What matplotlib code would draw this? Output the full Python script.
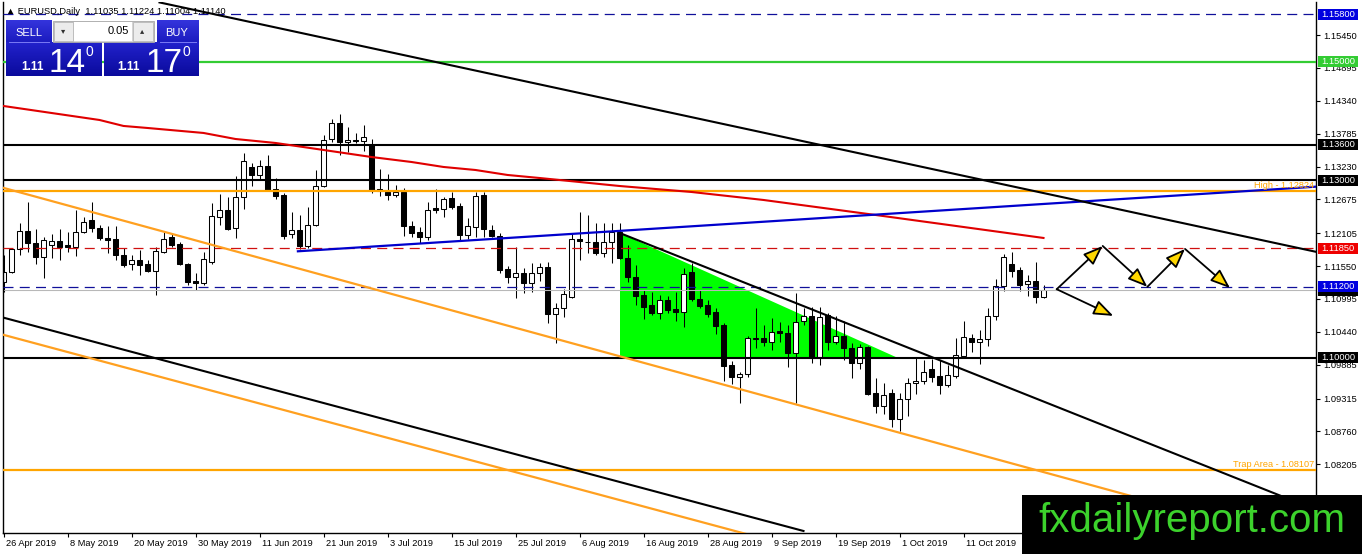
import numpy as np
import matplotlib
matplotlib.use('Agg')
import matplotlib.pyplot as plt
from matplotlib.patches import Rectangle, Polygon
from matplotlib.transforms import blended_transform_factory, ScaledTranslation
from matplotlib.colors import LinearSegmentedColormap

plt.rcParams['font.family'] = ['Liberation Sans', 'DejaVu Sans']

# ---------------- data ----------------
header_text = "\u25B2 EURUSD,Daily  1.11035 1.11224 1.11004 1.11140"

opens = [1.1128, 1.1145, 1.1184, 1.1214, 1.1194, 1.1170, 1.1191, 1.1197, 1.1191, 1.1187,
         1.1213, 1.1233, 1.1219, 1.1203, 1.1201, 1.1174, 1.1159, 1.1165, 1.1159, 1.1147,
         1.1179, 1.1204, 1.1192, 1.1159, 1.1130, 1.1127, 1.1162, 1.1238, 1.1250, 1.1219,
         1.1272, 1.1322, 1.1309, 1.1324, 1.1285, 1.1275, 1.1209, 1.1216, 1.1189, 1.1224,
         1.1290, 1.1370, 1.1397, 1.1364, 1.1368, 1.1366, 1.1359, 1.1285, 1.1280, 1.1275,
         1.1280, 1.1223, 1.1213, 1.1204, 1.1253, 1.1251, 1.1270, 1.1256, 1.1208, 1.1221,
         1.1275, 1.1216, 1.1206, 1.1150, 1.1137, 1.1143, 1.1127, 1.1143, 1.1154, 1.1074,
         1.1084, 1.1103, 1.1201, 1.1196, 1.1196, 1.1177, 1.1196, 1.1213, 1.1169, 1.1137,
         1.1106, 1.1089, 1.1076, 1.1098, 1.1083, 1.1078, 1.1145, 1.1100, 1.1089, 1.1078,
         1.1056, 1.0988, 1.0968, 1.0973, 1.1032, 1.1034, 1.1027, 1.1046, 1.1042, 1.1008,
         1.1062, 1.1071, 1.1002, 1.1072, 1.1027, 1.1037, 1.1017, 1.0991, 1.1019, 1.0941,
         1.0919, 1.0941, 1.0897, 1.0931, 1.0958, 1.0961, 1.0981, 1.0970, 1.0954, 1.0970,
         1.1003, 1.1034, 1.1027, 1.1032, 1.1071, 1.1122, 1.1159, 1.1149, 1.1125, 1.1130,
         1.11035]
highs = [1.1174, 1.1186, 1.1228, 1.1263, 1.1218, 1.1204, 1.1209, 1.1218, 1.1213, 1.1250,
         1.1238, 1.1263, 1.1224, 1.1223, 1.1223, 1.1186, 1.1174, 1.1182, 1.1165, 1.1187,
         1.1213, 1.1211, 1.1196, 1.1160, 1.1143, 1.1179, 1.1262, 1.1277, 1.1272, 1.1307,
         1.1346, 1.1329, 1.1334, 1.1343, 1.1304, 1.1278, 1.1246, 1.1241, 1.1255, 1.1317,
         1.1376, 1.1403, 1.1412, 1.1390, 1.1380, 1.1393, 1.1370, 1.1319, 1.1311, 1.1292,
         1.1287, 1.1231, 1.1221, 1.1263, 1.1285, 1.1272, 1.1280, 1.1262, 1.1236, 1.1280,
         1.1280, 1.1224, 1.1211, 1.1155, 1.1187, 1.1152, 1.1160, 1.1160, 1.1162, 1.1093,
         1.1116, 1.1211, 1.1246, 1.1241, 1.1228, 1.1228, 1.1228, 1.1228, 1.1191, 1.1157,
         1.1115, 1.1111, 1.1106, 1.1105, 1.1111, 1.1152, 1.1160, 1.1115, 1.1098, 1.1084,
         1.1059, 1.0995, 1.0976, 1.1037, 1.1084, 1.1056, 1.1068, 1.1061, 1.1056, 1.1110,
         1.1084, 1.1086, 1.1086, 1.1076, 1.1071, 1.1062, 1.1025, 1.1024, 1.1020, 1.0966,
         1.0958, 1.0948, 1.0941, 1.0966, 1.1000, 1.0997, 1.0998, 1.0997, 1.0988, 1.1034,
         1.1062, 1.1040, 1.1047, 1.1084, 1.1133, 1.1176, 1.1179, 1.1154, 1.1140, 1.1162,
         1.11224]
lows = [1.1111, 1.1143, 1.1174, 1.1179, 1.1159, 1.1135, 1.1169, 1.1165, 1.1179, 1.1172,
        1.1211, 1.1213, 1.1199, 1.1177, 1.1165, 1.1154, 1.1149, 1.1140, 1.1145, 1.1106,
        1.1177, 1.1187, 1.1157, 1.1123, 1.1115, 1.1123, 1.1159, 1.1224, 1.1216, 1.1203,
        1.1251, 1.1290, 1.1302, 1.1283, 1.1268, 1.1201, 1.1203, 1.1184, 1.1186, 1.1223,
        1.1289, 1.1364, 1.1343, 1.1348, 1.1363, 1.1349, 1.1278, 1.1273, 1.1267, 1.1272,
        1.1206, 1.1204, 1.1194, 1.1199, 1.1244, 1.1238, 1.1251, 1.1199, 1.1201, 1.1204,
        1.1204, 1.1204, 1.1143, 1.1127, 1.1101, 1.1110, 1.1111, 1.1130, 1.1059, 1.1025,
        1.1069, 1.1101, 1.1165, 1.1177, 1.1174, 1.1170, 1.1160, 1.1167, 1.1129, 1.1089,
        1.1066, 1.1072, 1.1066, 1.1076, 1.1063, 1.1052, 1.1096, 1.1084, 1.1069, 1.1040,
        1.0961, 1.0956, 1.0924, 1.0968, 1.1017, 1.1020, 1.1013, 1.1027, 1.0985, 1.0924,
        1.1056, 1.0991, 1.0988, 1.1013, 1.1024, 1.0997, 1.0966, 1.0981, 1.0938, 1.0907,
        1.0905, 1.0884, 1.0877, 1.0902, 1.0939, 1.0956, 1.0959, 1.0939, 1.0951, 1.0966,
        1.1002, 1.1010, 1.0990, 1.1020, 1.1064, 1.1113, 1.1137, 1.1113, 1.1105, 1.1093,
        1.11004]
closes = [1.1145, 1.1184, 1.1214, 1.1194, 1.1170, 1.1199, 1.1197, 1.1187, 1.1187, 1.1213,
          1.1229, 1.1219, 1.1203, 1.1199, 1.1174, 1.1157, 1.1165, 1.1157, 1.1147, 1.1181,
          1.1201, 1.1191, 1.1159, 1.1128, 1.1127, 1.1167, 1.1240, 1.1250, 1.1218, 1.1272,
          1.1332, 1.1309, 1.1324, 1.1283, 1.1273, 1.1206, 1.1216, 1.1189, 1.1224, 1.1290,
          1.1368, 1.1397, 1.1364, 1.1368, 1.1366, 1.1373, 1.1283, 1.1282, 1.1275, 1.1280,
          1.1223, 1.1211, 1.1204, 1.1250, 1.1250, 1.1268, 1.1255, 1.1208, 1.1223, 1.1273,
          1.1218, 1.1206, 1.1149, 1.1137, 1.1143, 1.1127, 1.1143, 1.1154, 1.1074, 1.1084,
          1.1108, 1.1201, 1.1197, 1.1195, 1.1177, 1.1196, 1.1213, 1.1169, 1.1137, 1.1105,
          1.1086, 1.1076, 1.1098, 1.1081, 1.1078, 1.1142, 1.1100, 1.1088, 1.1074, 1.1054,
          1.0987, 1.0968, 1.0973, 1.1034, 1.1034, 1.1027, 1.1044, 1.1042, 1.1008, 1.1061,
          1.1071, 1.1002, 1.1069, 1.1027, 1.1037, 1.1017, 1.0991, 1.1019, 1.0939, 1.0919,
          1.0938, 1.0897, 1.0931, 1.0958, 1.0961, 1.0976, 1.0968, 1.0954, 1.0971, 1.1005,
          1.1035, 1.1027, 1.1032, 1.1071, 1.1122, 1.1170, 1.1147, 1.1123, 1.1130, 1.1103,
          1.11140]

# moving average (red) read at selected bars
ma_bars = [0, 6, 12, 15, 18, 25, 29, 34, 40, 46, 51, 55, 59, 63, 67, 77, 86, 95, 109, 120, 130]
ma_vals = [1.14252, 1.14134, 1.14016, 1.13915, 1.13881, 1.13797, 1.13695, 1.13628, 1.13510,
           1.13391, 1.13307, 1.13223, 1.13172, 1.13088, 1.13037, 1.12902, 1.12801, 1.12666,
           1.12413, 1.12210, 1.12025]

date_bars = [0, 8, 16, 24, 32, 40, 48, 56, 64, 72, 80, 88, 96, 104, 112, 120]
date_labels = ['26 Apr 2019', '8 May 2019', '20 May 2019', '30 May 2019', '11 Jun 2019',
               '21 Jun 2019', '3 Jul 2019', '15 Jul 2019', '25 Jul 2019', '6 Aug 2019',
               '16 Aug 2019', '28 Aug 2019', '9 Sep 2019', '19 Sep 2019', '1 Oct 2019',
               '11 Oct 2019']
price_ticks = [1.15450, 1.14895, 1.14340, 1.13785, 1.13230, 1.12675, 1.12105, 1.11550,
               1.10995, 1.10440, 1.09885, 1.09315, 1.08760, 1.08205, 1.07650]

level_blue_dash = [1.15800, 1.11200]
level_green = [1.15000]
level_black = [1.13600, 1.13000, 1.10000]
level_red_dash = [1.11850]
level_high = 1.12824
level_trap = 1.08107
bid_price = 1.11140

# trend lines (bar index, price)
top_black_x, top_black_y = [19.5, 164.1], [1.1600, 1.1179]
low_black_x, low_black_y = [0, 100], [1.1068, 1.0708]
mid_black_x, mid_black_y = [77, 164], [1.1211, 1.0744]
up_orange_x, up_orange_y = [0, 164], [1.1287, 1.0682]
low_orange_x, low_orange_y = [0, 100], [1.1039, 1.0677]
blue_tl_x, blue_tl_y = [36.8, 164], [1.1180, 1.1289]
tri_x = [77, 77, 111.85]
tri_y = [1.1211, 1.1000, 1.1000]

arrow_x0 = [131.65, 137.4, 142.98, 147.69, 131.65]
arrow_y0 = [1.1116, 1.1189, 1.1120, 1.1184, 1.1116]
arrow_x1 = [137.4, 142.98, 147.69, 153.31, 138.73]
arrow_y1 = [1.1189, 1.1120, 1.1184, 1.1118, 1.1071]

panel_lot = "0.05"
sell_big, buy_big = "14", "17"

# ---------------- figure ----------------
W, H = 1362, 554
fig = plt.figure(figsize=(W / 100, H / 100), dpi=100, facecolor='white')
PL, PR, PT, PB = 3, 1316, 2, 533
ax = fig.add_axes([PL / W, (H - PB) / H, (PR - PL) / W, (PB - PT) / H])
ov = fig.add_axes([0, 0, 1, 1], zorder=10)
ov.axis('off')

ymin, ymax = 1.07046, 1.16007
xmin, xmax = (PL - 3.5) / 8, (PR - 3.5) / 8
pxp = (ymax - ymin) / (PB - PT)   # price per pixel

ax.set_facecolor('white')
ax.spines['top'].set_visible(False)
for s in ['left', 'right', 'bottom']:
    ax.spines[s].set_linewidth(1.0)
    ax.spines[s].set_color('black')

# green triangle (background)
ax.add_patch(Polygon(list(zip(tri_x, tri_y)), closed=True, facecolor='#00ff00',
                     edgecolor='none', zorder=1))

# candles
o = np.array(opens); h = np.array(highs); l = np.array(lows); c = np.array(closes)
idx = np.arange(len(o))
up = c >= o
ax.vlines(idx, l, h, color='black', lw=0.75, zorder=2)
lo = np.minimum(o, c)
bh = np.maximum(np.abs(c - o), 0.00012)
ax.bar(idx[up], bh[up], bottom=lo[up], width=0.6, facecolor='white', edgecolor='black',
       linewidth=0.75, zorder=2.2)
ax.bar(idx[~up], bh[~up], bottom=lo[~up], width=0.6, facecolor='black', edgecolor='black',
       linewidth=0.75, zorder=2.2)

# bid line
ax.axhline(bid_price, color='#b8b8b8', lw=0.8, zorder=2.5)
# horizontal levels
for v in level_blue_dash:
    ax.axhline(v, color='#10109a', lw=0.9, dashes=(8, 5), zorder=3)
for v in level_red_dash:
    ax.axhline(v, color='#d01010', lw=0.9, dashes=(8, 5), zorder=3)
for v in level_green:
    ax.axhline(v, color='#33cc33', lw=1.6, zorder=3)
for v in level_black:
    ax.axhline(v, color='black', lw=1.5, zorder=3)
ax.axhline(level_high, color='#ffa500', lw=1.6, zorder=3)
ax.axhline(level_trap, color='#ffa500', lw=1.6, zorder=3)

# indicator + trend lines
ax.plot(ma_bars, ma_vals, color='#e00000', lw=1.5, zorder=3.5)
ax.plot(up_orange_x, up_orange_y, color='#ffa020', lw=1.6, zorder=3.6)
ax.plot(low_orange_x, low_orange_y, color='#ffa020', lw=1.6, zorder=3.6)
ax.plot(low_black_x, low_black_y, color='black', lw=1.5, zorder=3.6)
ax.plot(mid_black_x, mid_black_y, color='black', lw=1.5, zorder=3.6)
ax.plot(blue_tl_x, blue_tl_y, color='#0000cc', lw=1.6, zorder=3.7)

# header text (under the top black line)
ax.text(6, 13.5, header_text, transform=ov.transData, fontsize=6.7, color='black',
        ha='left', va='baseline', clip_on=False, zorder=3.8)
ax.plot(top_black_x, top_black_y, color='black', lw=1.5, zorder=4)

# arrows
for x0, y0, x1, y1 in zip(arrow_x0, arrow_y0, arrow_x1, arrow_y1):
    ax.annotate('', xy=(x1, y1), xytext=(x0, y0),
                arrowprops=dict(arrowstyle='-|>,head_length=1.0,head_width=0.38',
                                mutation_scale=12, fc='#ffd700', ec='black', lw=1.3,
                                shrinkA=0, shrinkB=0), zorder=6)

# object labels
bt = blended_transform_factory(ov.transData, ax.transData)
ax.text(1314, level_high + 0.8 * pxp, 'High - 1.12824', transform=bt,
        ha='right', va='bottom', fontsize=6.6, color='#ffa500', zorder=6, clip_on=False)
ax.text(1314, level_trap + 0.8 * pxp, 'Trap Area - 1.08107', transform=bt,
        ha='right', va='bottom', fontsize=6.6, color='#ffa500', zorder=6, clip_on=False)

# axes ticks
ax.yaxis.tick_right()
ax.set_yticks(price_ticks)
ax.set_yticklabels([f'{v:.5f}' for v in price_ticks])
ax.tick_params(axis='y', length=2.9, width=0.8, pad=2, labelsize=6.7, colors='black')
ax.set_xticks(date_bars)
ax.set_xticklabels(date_labels)
ax.tick_params(axis='x', length=2.9, width=0.8, pad=1.5, labelsize=6.7, colors='black')
off = ScaledTranslation(2 / 100, 0, fig.dpi_scale_trans)
for lab in ax.get_xticklabels():
    lab.set_horizontalalignment('left')
    lab.set_transform(lab.get_transform() + off)

# bid marker box (mostly hidden under the 1.11200 label)
ax.add_patch(Rectangle((1318, bid_price - 5.5 * pxp), 40, 11 * pxp, transform=bt,
                       facecolor='black', edgecolor='none', clip_on=False, zorder=7))
# coloured price labels on the right scale
box_specs = [(1.15800, '#0000e0'), (1.15000, '#33cc33'),
             (1.13600, 'black'), (1.13000, 'black'), (1.11850, '#ee0000'),
             (1.11200, '#0000e0'), (1.10000, 'black')]
for v, col in box_specs:
    ax.add_patch(Rectangle((1318, v - 5.5 * pxp), 40, 11 * pxp, transform=bt,
                           facecolor=col, edgecolor='none', clip_on=False, zorder=7))
    ax.text(1338, v, f'{v:.5f}', transform=bt, ha='center', va='center', fontsize=6.7,
            color='white', zorder=8, clip_on=False)

ax.set_xlim(xmin, xmax)
ax.set_ylim(ymin, ymax)

# ---------------- overlay: trade panel & watermark ----------------
def grad_box(x0, y0, x1, y1, ctop, cbot):
    cm = LinearSegmentedColormap.from_list('g', [ctop, cbot])
    ov.imshow(np.linspace(0, 1, 64).reshape(-1, 1), extent=(x0, x1, y1, y0), cmap=cm,
              aspect='auto', interpolation='bilinear', zorder=1)

grad_box(6, 20.5, 51.5, 42.5, '#3434dc', '#1c1cc0')
grad_box(157, 20.5, 199, 42.5, '#3434dc', '#1c1cc0')
grad_box(6, 42.5, 101.5, 76, '#2222cc', '#0a0a9c')
grad_box(104, 42.5, 199, 76, '#2222cc', '#0a0a9c')
ov.plot([9, 49], [42.3, 42.3], color='#7a7af5', lw=0.7, zorder=2)
ov.plot([160, 196], [42.3, 42.3], color='#7a7af5', lw=0.7, zorder=2)

ov.add_patch(Rectangle((52.5, 20.5), 101, 21, facecolor='#d4d4d4', edgecolor='#a8a8a8',
                       lw=0.6, zorder=1))
ov.add_patch(Rectangle((53.5, 21.5), 19, 19, facecolor='#ececec', edgecolor='#b0b0b0',
                       lw=0.5, zorder=2))
ov.add_patch(Rectangle((73.5, 21.5), 58, 19, facecolor='white', edgecolor='none', zorder=2))
ov.add_patch(Rectangle((132.5, 21.5), 20, 19, facecolor='#ececec', edgecolor='#b0b0b0',
                       lw=0.5, zorder=2))
ov.text(63, 31, '\u25BE', ha='center', va='center', fontsize=6, color='#303030',
        family=['DejaVu Sans'], zorder=3)
ov.text(142.5, 31, '\u25B4', ha='center', va='center', fontsize=6, color='#303030',
        family=['DejaVu Sans'], zorder=3)
ov.text(129, 34.5, panel_lot, ha='right', va='baseline', fontsize=8, color='black', zorder=3)

ov.text(28.5, 36, 'SELL', ha='center', va='baseline', fontsize=8, color='white', zorder=3)
ov.text(177, 36, 'BUY', ha='center', va='baseline', fontsize=8, color='white', zorder=3)

ov.text(32.5, 70, '1.11', ha='center', va='baseline', fontsize=8.5, fontweight='bold',
        color='white', zorder=3)
ov.text(67.5, 71.7, sell_big, ha='center', va='baseline', fontsize=24, color='white', zorder=3)
ov.text(89.5, 56.5, '0', ha='center', va='baseline', fontsize=10, color='white', zorder=3)
ov.text(128.3, 70, '1.11', ha='center', va='baseline', fontsize=8.5, fontweight='bold',
        color='white', zorder=3)
ov.text(164, 71.7, buy_big, ha='center', va='baseline', fontsize=24, color='white', zorder=3)
ov.text(186, 56.5, '0', ha='center', va='baseline', fontsize=10, color='white', zorder=3)

# watermark
ov.add_patch(Rectangle((1022, 495), 340, 59, facecolor='black', edgecolor='none', zorder=4))
ov.text(1038, 532.5, 'fxdailyreport.com', ha='left', va='baseline', fontsize=29,
        color='#3cd22c', zorder=5)

ov.set_xlim(0, W)
ov.set_ylim(H, 0)

fig.savefig('out.png', dpi=100, facecolor='white')
